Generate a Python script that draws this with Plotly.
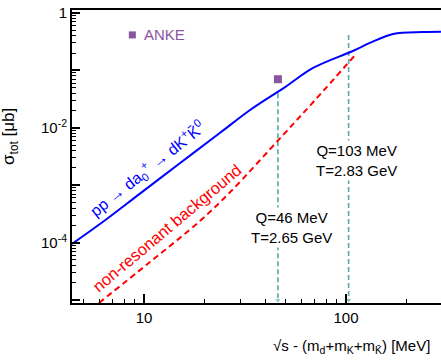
import plotly.graph_objects as go

# Excess energy Q = sqrt(s) - (m_d + m_K + m_Kbar) in MeV, cross sections in microbarn
q_model = [4.4, 6.05, 9.55, 15.1, 23.8, 33.5, 49.9, 68.7, 108, 131, 171, 240, 295]
sigma_model = [9.5e-5, 2.11e-4, 7.15e-4, 2.44e-3, 8.17e-3, 0.0204, 0.051, 0.11,
               0.217, 0.30, 0.43, 0.465, 0.47]

q_background = [5.98, 10.7, 18.9, 26.7, 48.8, 70.3, 111]
sigma_background = [8.9e-6, 4.6e-5, 2.38e-4, 7.6e-4, 7.5e-3, 0.0304, 0.185]

q_anke = [46]
sigma_anke = [0.07]

# Beam energies marked by vertical arrows
q_marks = [46, 103]
mark_tops = [0.04, 0.41]
mark_bottom = 1e-5
mark_labels = ["Q=46 MeV<br>T=2.65 GeV", "Q=103 MeV<br>T=2.83 GeV"]

x_major = [10, 100]
x_major_text = ["10", "100"]
x_minor = [m * d for d in (1, 10, 100) for m in range(2, 10) if 4.4 <= m * d <= 295]
y_major = [1e-5, 1e-4, 1e-3, 1e-2, 1e-1, 1]
y_major_text = ["", "10<sup>-4</sup>", "", "10<sup>-2</sup>", "", "1"]
y_minor = [m * 10.0 ** e for e in range(-6, 0) for m in range(2, 10)]

FONT = "Liberation Sans, Arial, sans-serif"
TEAL = "#5fa8a8"
PURPLE = "#8a55a0"

fig = go.Figure()

for q, top in zip(q_marks, mark_tops):
    fig.add_trace(go.Scatter(
        x=[q, q], y=[top, mark_bottom], mode="lines+markers",
        line=dict(color=TEAL, width=1.6, dash="5px,3px"),
        marker=dict(symbol="triangle-down", size=[0, 6], color=TEAL),
        showlegend=False, hoverinfo="skip"))

fig.add_trace(go.Scatter(
    x=q_background, y=sigma_background, mode="lines",
    line=dict(color="#ff0000", width=2, dash="6px,4px", shape="spline"),
    showlegend=False))

fig.add_trace(go.Scatter(
    x=q_model, y=sigma_model, mode="lines",
    line=dict(color="#0000ff", width=2, shape="spline"),
    showlegend=False))

fig.add_trace(go.Scatter(
    x=q_anke, y=sigma_anke, mode="markers",
    marker=dict(symbol="square", size=8, color=PURPLE),
    showlegend=False))


def label(text, x, y, size, color="black", angle=0, **kw):
    d = dict(text=text, x=x, y=y, xref="paper", yref="paper", showarrow=False,
             xanchor="center", yanchor="middle", textangle=angle,
             font=dict(size=size, color=color, family=FONT))
    d.update(kw)
    return d


annotations = [
    label(mark_labels[0], 0.596, 0.256, 15, bgcolor="white", borderpad=1),
    label(mark_labels[1], 0.770, 0.485, 15, bgcolor="white", borderpad=1),
    label("pp → da<sub>0</sub><sup>+</sup> → dK<sup>+</sup>K̄<sup>0</sup>",
          0.2046, 0.457, 16, color="#0000ff", angle=-38.5),
    label("non-resonant background", 0.257, 0.256, 16.5, color="#ff0000", angle=-40),
    label("ANKE", 0.190, 0.915, 15, color=PURPLE, xanchor="left"),
    label("σ<sub>tot</sub> [μb]", -0.168, 0.567, 17, angle=-90),
    label("√s - (m<sub>d</sub>+m<sub>K</sub>+m<sub>K̄</sub>) [MeV]",
          0.540, -0.150, 15, xanchor="left"),
]

fig.update_layout(
    width=441, height=362,
    margin=dict(l=72, r=0, t=10, b=59),
    paper_bgcolor="white", plot_bgcolor="white",
    font=dict(family=FONT, size=15, color="black"),
    annotations=annotations,
    shapes=[dict(type="rect", xref="paper", yref="paper",
                 x0=0.154, x1=0.173, y0=0.903, y1=0.927,
                 fillcolor=PURPLE, line=dict(width=0))],
    xaxis=dict(
        type="log", range=[0.6436, 2.470],
        showline=True, linewidth=2, linecolor="black", mirror=True,
        showgrid=False, zeroline=False,
        ticks="inside", ticklen=9, tickwidth=1.5, tickcolor="black",
        tickvals=x_major, ticktext=x_major_text,
        minor=dict(ticks="inside", ticklen=4, tickwidth=1.2, tickcolor="black",
                   tickvals=x_minor),
    ),
    yaxis=dict(
        type="log", range=[-5.05, 0.05],
        showline=True, linewidth=2, linecolor="black",
        showgrid=False, zeroline=False,
        ticks="inside", ticklen=8, tickwidth=1.5, tickcolor="black",
        tickvals=y_major, ticktext=y_major_text,
        minor=dict(ticks="inside", ticklen=4, tickwidth=1.2, tickcolor="black",
                   tickvals=y_minor),
    ),
)

fig.write_html("out.html")
